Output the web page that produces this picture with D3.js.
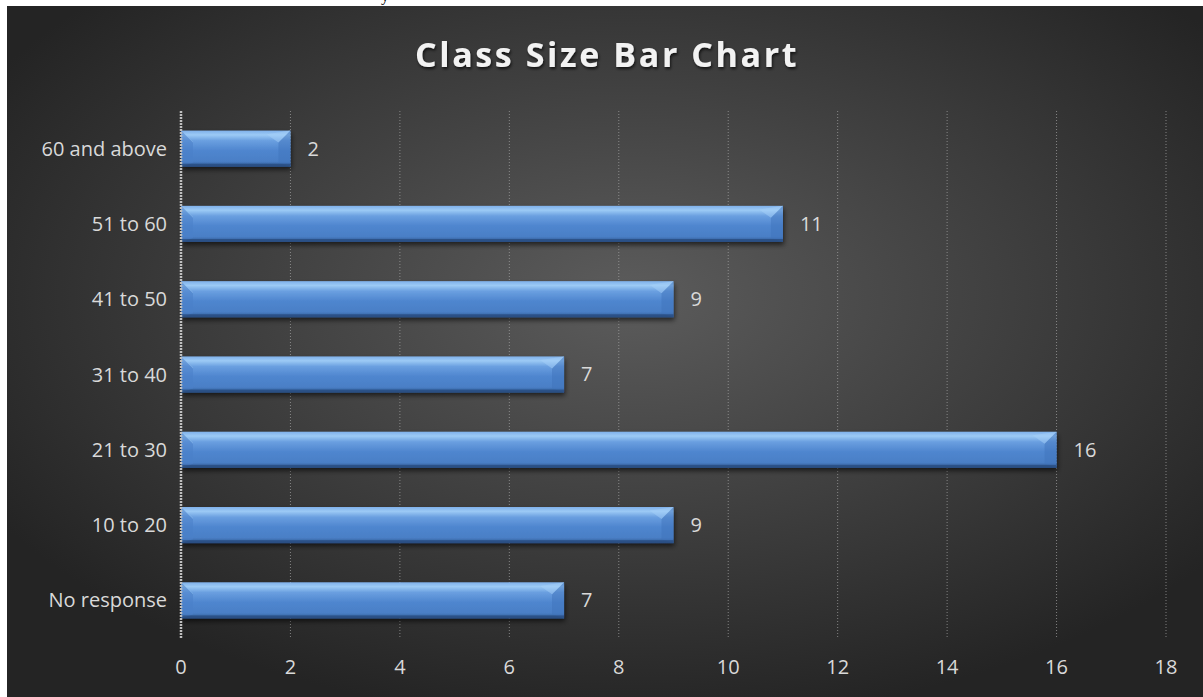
<!DOCTYPE html>
<html>
<head>
<meta charset="utf-8">
<script src="https://cdn.jsdelivr.net/npm/d3@7"></script>
<style>
  html, body { margin: 0; padding: 0; background: #fff; overflow: hidden; }
  svg { display: block; }
</style>
</head>
<body>
<div id="chart"></div>
<script>
const W = 1203, H = 697

// data
const categories = ["60 and above", "51 to 60", "41 to 50", "31 to 40", "21 to 30", "10 to 20", "No response"]
const counts = [2, 11, 9, 7, 16, 9, 7]
const xTicks = [0, 2, 4, 6, 8, 10, 12, 14, 16, 18]
const title = "Class Size Bar Chart"

const box = {x: 7, y: 6}
const margin = {top: 111, left: 181}
const plotW = 985, plotH = 527

const svg = d3.select("#chart").append("svg")
    .attr("width", W)
    .attr("height", H)

const defs = svg.append("defs")

const bg = defs.append("radialGradient")
    .attr("id", "bg")
    .attr("cx", "52%").attr("cy", "42%").attr("r", "62%")
bg.append("stop").attr("offset", "0%").attr("stop-color", "#5c5c5c")
bg.append("stop").attr("offset", "100%").attr("stop-color", "#242424")

const barGrad = defs.append("linearGradient")
    .attr("id", "barGrad")
    .attr("x1", 0).attr("y1", 0).attr("x2", 0).attr("y2", 1)
barGrad.append("stop").attr("offset", "0%").attr("stop-color", "#7fb0ea")
barGrad.append("stop").attr("offset", "12%").attr("stop-color", "#9ccaf5")
barGrad.append("stop").attr("offset", "28%").attr("stop-color", "#6a9fe0")
barGrad.append("stop").attr("offset", "55%").attr("stop-color", "#4f86cf")
barGrad.append("stop").attr("offset", "85%").attr("stop-color", "#4a7fc6")
barGrad.append("stop").attr("offset", "100%").attr("stop-color", "#2e5891")

const shadow = defs.append("filter")
    .attr("id", "shadow")
    .attr("x", "-5%").attr("y", "-30%").attr("width", "115%").attr("height", "170%")
shadow.append("feDropShadow")
    .attr("dx", 1).attr("dy", 3).attr("stdDeviation", 2.5)
    .attr("flood-color", "#000").attr("flood-opacity", 0.6)

const titleShadow = defs.append("filter").attr("id", "tshadow")
titleShadow.append("feDropShadow")
    .attr("dx", 1).attr("dy", 2).attr("stdDeviation", 1.5)
    .attr("flood-color", "#000").attr("flood-opacity", 0.7)

// chart area background
svg.append("rect")
    .attr("x", box.x).attr("y", box.y)
    .attr("width", W - box.x).attr("height", H - box.y)
    .attr("fill", "url(#bg)")

// cut-off text of the surrounding document (only its descender shows)
svg.append("text")
    .attr("x", 381).attr("y", 1)
    .attr("font-family", "Liberation Serif")
    .attr("font-size", 16)
    .attr("fill", "#000")
    .text("y")

svg.append("text")
    .attr("x", 607).attr("y", 67)
    .attr("text-anchor", "middle")
    .attr("font-family", "Open Sans")
    .attr("font-weight", "bold")
    .attr("font-size", 34)
    .attr("letter-spacing", 2.6)
    .attr("fill", "#f2f2f2")
    .attr("filter", "url(#tshadow)")
    .text(title)

const x = d3.scaleLinear().domain([0, 18]).range([margin.left, margin.left + plotW])
const y = d3.scaleBand().domain(categories)
    .range([margin.top, margin.top + plotH])
    .paddingInner(0.52).paddingOuter(0.26)

// gridlines
svg.append("g")
    .selectAll("line")
    .data(xTicks.slice(1))
    .join("line")
    .attr("x1", d => x(d)).attr("x2", d => x(d))
    .attr("y1", margin.top).attr("y2", margin.top + plotH)
    .attr("stroke", "#a6a6a6")
    .attr("stroke-width", 1)
    .attr("stroke-dasharray", "1,2")
    .attr("opacity", 0.7)

// bars
const bars = svg.append("g")
    .selectAll("g")
    .data(categories.map((c, i) => ({cat: c, v: counts[i]})))
    .join("g")
    .attr("transform", d => `translate(${x(0)},${y(d.cat)})`)

const bh = y.bandwidth()
const bev = 12
const bw = d => x(d.v) - x(0)

bars.append("rect")
    .attr("width", bw)
    .attr("height", bh)
    .attr("fill", "url(#barGrad)")
    .attr("filter", "url(#shadow)")

// bevel facets at the ends: light top corner, darker side
bars.append("path")
    .attr("d", `M0,0 L${bev},${bev} L${bev},${bh - 4} L0,${bh} Z`)
    .attr("fill", "#4a80c8")
    .attr("opacity", 0.55)
bars.append("path")
    .attr("d", `M0,0 L${bev},${bev} L${bev},${bh * 0.3} Z`)
    .attr("fill", "#9cc8f2")
    .attr("opacity", 0.35)
bars.append("path")
    .attr("d", d => `M${bw(d)},0 L${bw(d) - bev},${bev} L${bw(d) - bev},${bh - 4} L${bw(d)},${bh} Z`)
    .attr("fill", "#3f73bb")
    .attr("opacity", 0.5)
bars.append("path")
    .attr("d", d => `M${bw(d)},0 L${bw(d) - bev},${bev} L${bw(d) - bev * 2},${bev * 0.3} Z`)
    .attr("fill", "#a6d0f7")
    .attr("opacity", 0.5)
bars.append("rect")
    .attr("y", bh - 3)
    .attr("width", bw)
    .attr("height", 3)
    .attr("fill", "#27497a")
    .attr("opacity", 0.7)

bars.append("text")
    .attr("x", d => bw(d) + 17)
    .attr("y", bh / 2)
    .attr("dy", "0.35em")
    .attr("font-family", "Open Sans")
    .attr("font-size", 20)
    .attr("fill", "#d9d9d9")
    .text(d => d.v)

// vertical axis line
svg.append("line")
    .attr("x1", x(0)).attr("x2", x(0))
    .attr("y1", margin.top).attr("y2", margin.top + plotH)
    .attr("stroke", "#bfbfbf")
    .attr("stroke-width", 2.5)
    .attr("stroke-dasharray", "2,1")

// category labels
svg.append("g")
    .selectAll("text")
    .data(categories)
    .join("text")
    .attr("x", 167)
    .attr("y", d => y(d) + bh / 2)
    .attr("dy", "0.35em")
    .attr("text-anchor", "end")
    .attr("font-family", "Open Sans")
    .attr("font-size", 20)
    .attr("fill", "#d9d9d9")
    .text(d => d)

// x tick labels
svg.append("g")
    .selectAll("text")
    .data(xTicks)
    .join("text")
    .attr("x", d => x(d))
    .attr("y", 667)
    .attr("dy", "0.35em")
    .attr("text-anchor", "middle")
    .attr("font-family", "Open Sans")
    .attr("font-size", 20)
    .attr("fill", "#d9d9d9")
    .text(d => d)
</script>
</body>
</html>
